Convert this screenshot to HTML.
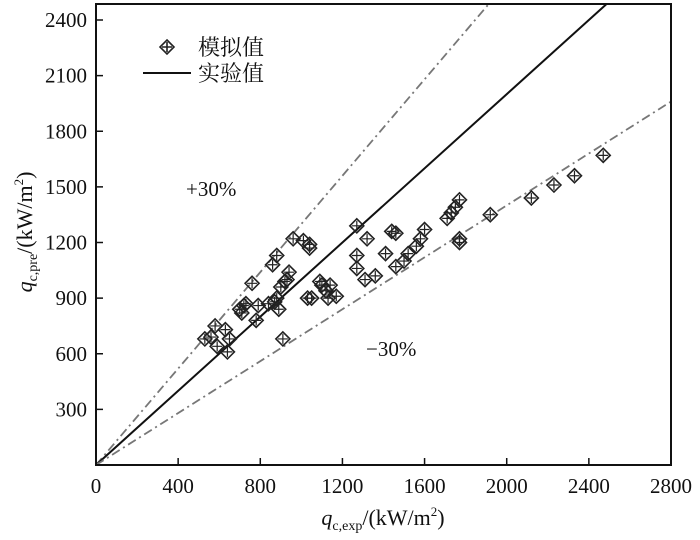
<!DOCTYPE html>
<html><head><meta charset="utf-8"><style>
html,body{margin:0;padding:0;background:#fff;}
svg text{font-family:"Liberation Serif","Noto Serif CJK SC",serif;fill:#111;}
</style></head><body>
<svg id="chart" width="700" height="535" xmlns="http://www.w3.org/2000/svg">
<g id="grid"></g>
</svg>
<script>
const xTicks=[0,400,800,1200,1600,2000,2400,2800];
const yTicks=[300,600,900,1200,1500,1800,2100,2400];
const expVals=[530,560,580,590,630,640,650,700,710,720,730,760,780,790,840,860,870,880,880,890,900,910,920,930,940,960,1010,1030,1040,1040,1050,1090,1100,1120,1130,1140,1170,1270,1270,1270,1310,1320,1360,1410,1440,1460,1460,1500,1520,1560,1580,1600,1710,1730,1750,1770,1770,1770,1920,2120,2230,2330,2470];
const preVals=[680,690,750,640,730,610,680,840,820,860,870,980,780,860,870,1080,880,900,1130,840,960,680,990,1000,1040,1220,1210,900,1190,1170,900,990,970,940,900,970,910,1290,1130,1060,1000,1220,1020,1140,1260,1250,1070,1100,1140,1180,1220,1270,1330,1360,1390,1430,1200,1220,1350,1440,1510,1560,1670];
const refSlopes=[1.3,1.0,0.7];
const X0=96,X1=671,Y0=465,YT=4,XMAX=2800,YPER=(465-20)/2400;
const sx=v=>X0+(v/XMAX)*(X1-X0);
const sy=v=>Y0-v*YPER;
const YMAXV=(Y0-YT)/YPER;
const svg=document.getElementById('chart');
const NS='http://www.w3.org/2000/svg';
function mk(tag,attrs,parent){const e=document.createElementNS(NS,tag);for(const k in attrs)e.setAttribute(k,attrs[k]);(parent||svg).appendChild(e);return e;}
const defs=mk('defs',{});const cp=mk('clipPath',{id:'pc'},defs);mk('rect',{x:X0,y:YT,width:X1-X0,height:Y0-YT},cp);
const lg=mk('g',{'clip-path':'url(#pc)'});
refSlopes.forEach((s,i)=>{
  let xe=XMAX; if(s*xe>YMAXV) xe=YMAXV/s;
  const l=mk('line',{x1:sx(0),y1:sy(0),x2:sx(xe),y2:sy(s*xe),stroke:s===1?'#111':'#777','stroke-width':s===1?2:1.8,'stroke-dasharray':s===1?'none':'9,4,2,4'},lg);
  
  
});
const pg=mk('g',{});


expVals.forEach((xv,i)=>{
  const cx=sx(xv),cy=sy(preVals[i]),r=7;
  const g=mk('g',{},pg);
  
  
  mk('path',{d:`M${cx},${cy-r}L${cx+r},${cy}L${cx},${cy+r}L${cx-r},${cy}Z`,fill:'none',stroke:'#222','stroke-width':1.6},g);
  mk('path',{d:`M${cx-r+2},${cy}H${cx+r-2}M${cx},${cy-r+2}V${cy+r-2}`,stroke:'#222','stroke-width':1.2},g);
});
const fr=mk('rect',{x:X0,y:YT,width:X1-X0,height:Y0-YT,fill:'none',stroke:'#111','stroke-width':2});


xTicks.forEach(t=>{
  if(t>0&&t<XMAX) mk('line',{x1:sx(t),y1:Y0,x2:sx(t),y2:Y0-7,stroke:'#111','stroke-width':1.5});
  const tx=mk('text',{x:sx(t),y:Y0+28,'text-anchor':'middle','font-size':21});
  tx.textContent=t;
  
  
});
yTicks.forEach(t=>{
  mk('line',{x1:X0,y1:sy(t),x2:X0+7,y2:sy(t),stroke:'#111','stroke-width':1.5});
  const tx=mk('text',{x:X0-9,y:sy(t)+7,'text-anchor':'end','font-size':21});
  tx.textContent=t;
  
  
});
</script>
<svg style="position:absolute;left:0;top:0" width="700" height="535" xmlns="http://www.w3.org/2000/svg">
<g>
 <path d="M167,40L174,47L167,54L160,47Z M162,47H172 M167,42V52" fill="none" stroke="#222" stroke-width="1.6"/>
 <text x="198" y="55" font-size="22">模拟值</text>
 <line x1="143" y1="73" x2="191" y2="73" stroke="#111" stroke-width="2"/>
 <text x="198" y="81" font-size="22">实验值</text>
</g>
<text x="186" y="196" font-size="21">+30%</text>
<text x="366" y="356" font-size="21">−30%</text>
<text x="383" y="525" font-size="22" text-anchor="middle"><tspan font-style="italic">q</tspan><tspan font-size="14" dy="5">c,exp</tspan><tspan dy="-5">/(kW/m</tspan><tspan font-size="13" dy="-9">2</tspan><tspan dy="9">)</tspan></text>
<text transform="translate(32,232) rotate(-90)" font-size="22" text-anchor="middle"><tspan font-style="italic">q</tspan><tspan font-size="14" dy="5">c,pre</tspan><tspan dy="-5">/(kW/m</tspan><tspan font-size="13" dy="-9">2</tspan><tspan dy="9">)</tspan></text>
</svg>
</body></html>
